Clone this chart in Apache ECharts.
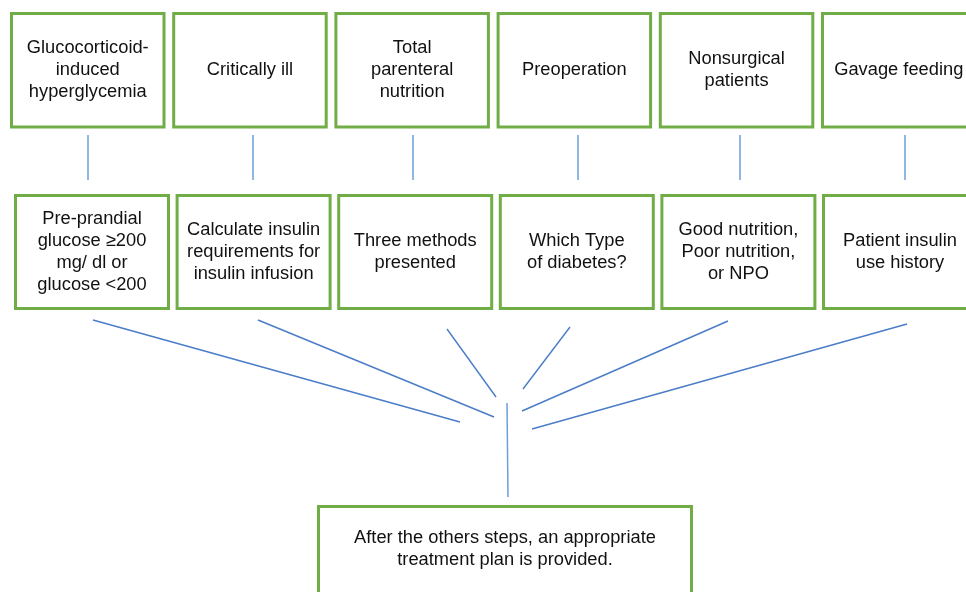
<!DOCTYPE html>
<html>
<head>
<meta charset="utf-8">
<script src="https://cdn.jsdelivr.net/npm/echarts/dist/echarts.min.js"></script>
<style>
html,body{margin:0;padding:0;background:#ffffff;}
#chart{width:966px;height:592px;}
</style>
</head>
<body>
<div id="chart"></div>
<script>
// ---- content ----
const topLabels = [
  'Glucocorticoid-\ninduced\nhyperglycemia',
  'Critically ill',
  'Total\nparenteral\nnutrition',
  'Preoperation',
  'Nonsurgical\npatients',
  'Gavage feeding'
];
const midLabels = [
  'Pre-prandial\nglucose \u2265200\nmg/ dl or\nglucose <200',
  'Calculate insulin\nrequirements for\ninsulin infusion',
  'Three methods\npresented',
  'Which Type\nof diabetes?',
  'Good nutrition,\nPoor nutrition,\nor NPO',
  'Patient insulin\nuse history'
];
const finalLabels = ['After the others steps, an appropriate\ntreatment plan is provided.'];
const columnIndex = [0, 1, 2, 3, 4, 5];

// connector values (diagram units)
const stemX = [88, 253, 413, 578, 740, 905];
const stemY = [135, 180];
const fanStartX = [93, 258, 447, 570, 728, 907];
const fanStartY = [320, 320, 329, 327, 321, 324];
const fanEndX = [460, 494, 496, 523, 522, 532];
const fanEndY = [422, 417, 397, 389, 411, 429];
const trunkX = [507, 508];
const trunkY = [403, 497];

// ---- layout / style (not data) ----
const rowLayout = [
  { left: 10, pitch: 162.2, width: 155.5, top: 12, bottom: 128.5, textY: 70 },
  { left: 14, pitch: 161.6, width: 156, top: 194, bottom: 310, textY: 252 },
  { left: 317, pitch: 0, width: 376, top: 505, bottom: 610, textY: 549 }
];
const labelsByRow = [topLabels, midLabels, finalLabels];
const GREEN = '#70AD47';
const FONT = '18.3px "Liberation Sans", Arial, Helvetica, sans-serif';

const boxData = [];
columnIndex.forEach(c => boxData.push([0, c]));
columnIndex.forEach(c => boxData.push([1, c]));
finalLabels.forEach((_, c) => boxData.push([2, c]));

const stemLines = stemX.map(x => ({ coords: [[x, stemY[0]], [x, stemY[1]]] }));
stemLines.push({ coords: [[trunkX[0], trunkY[0]], [trunkX[1], trunkY[1]]] });
const fanLines = fanStartX.map((x, i) => ({
  coords: [[x, fanStartY[i]], [fanEndX[i], fanEndY[i]]]
}));

function renderBox(params, api) {
  const row = api.value(0);
  const col = api.value(1);
  const L = rowLayout[row];
  const x0 = L.left + col * L.pitch;
  const x1 = x0 + L.width;
  const p0 = api.coord([x0 + 1.5, L.top + 1.5]);
  const p1 = api.coord([x1 - 1.5, L.bottom - 1.5]);
  const tc = api.coord([(x0 + x1) / 2, L.textY]);
  return {
    type: 'group',
    children: [
      {
        type: 'rect',
        shape: { x: p0[0], y: p0[1], width: p1[0] - p0[0], height: p1[1] - p0[1] },
        style: { fill: '#ffffff', stroke: GREEN, lineWidth: 3 }
      },
      {
        type: 'text',
        x: tc[0],
        y: tc[1],
        style: {
          text: labelsByRow[row][col],
          fill: '#111111',
          font: FONT,
          align: 'center',
          verticalAlign: 'middle',
          lineHeight: 22
        }
      }
    ]
  };
}

const chart = echarts.init(document.getElementById('chart'), null, { renderer: 'canvas' });
chart.setOption({
  backgroundColor: '#ffffff',
  animation: false,
  grid: { left: 0, right: 0, top: 0, bottom: 0 },
  xAxis: { type: 'value', min: 0, max: 966, show: false },
  yAxis: { type: 'value', min: 0, max: 592, inverse: true, show: false },
  series: [
    {
      type: 'lines',
      coordinateSystem: 'cartesian2d',
      silent: true,
      lineStyle: { color: '#6A9FDB', width: 1.5, opacity: 1 },
      data: stemLines
    },
    {
      type: 'lines',
      coordinateSystem: 'cartesian2d',
      silent: true,
      lineStyle: { color: '#4A7CC7', width: 1.4, opacity: 1 },
      data: fanLines
    },
    {
      type: 'custom',
      coordinateSystem: 'cartesian2d',
      silent: true,
      clip: false,
      renderItem: renderBox,
      data: boxData
    }
  ]
});
</script>
</body>
</html>
